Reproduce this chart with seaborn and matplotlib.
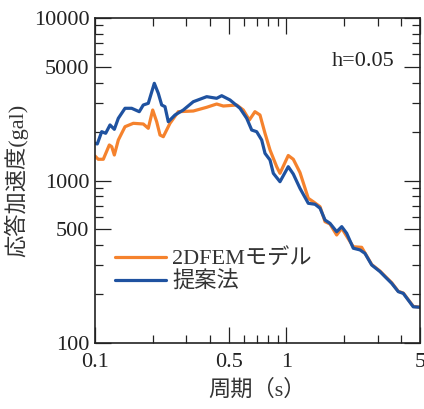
import matplotlib
matplotlib.use("Agg")
import matplotlib.pyplot as plt
import matplotlib.ticker as mticker
import numpy as np
import pandas as pd
import seaborn as sns

# 周期 (s) と応答加速度 (gal)
T_fem = [0.100, 0.104, 0.1105, 0.1188, 0.1223, 0.1262, 0.1324, 0.1435, 0.1586, 0.1788,
         0.1899, 0.2003, 0.2101, 0.2187, 0.2275, 0.2466, 0.2725, 0.3265, 0.3836, 0.4326,
         0.4686, 0.5504, 0.596, 0.6409, 0.6858, 0.7286, 0.7739, 0.822, 0.8908, 0.9268,
         1.024, 1.088, 1.179, 1.303, 1.384, 1.501, 1.594, 1.692, 1.834, 1.949,
         2.24, 2.478, 2.578, 2.796, 3.09, 3.281, 3.556, 3.85, 4.089, 4.612, 5.0]
A_fem = [1415, 1351, 1351, 1654, 1615, 1435, 1775, 2143, 2249, 2227,
         2095, 2715, 2300, 1905, 1860, 2249, 2651, 2677, 2822, 2956,
         2873, 2915, 2715, 2356, 2651, 2530, 1952, 1541, 1216, 1107,
         1425, 1351, 1120, 777, 740, 690, 558, 540, 462, 508,
         391, 388, 358, 304, 277, 258, 235, 208, 203, 168, 166]

T_prop = [0.100, 0.1028, 0.1084, 0.1137, 0.1198, 0.1262, 0.1324, 0.1435, 0.1555, 0.1704,
          0.1788, 0.1899, 0.2042, 0.2142, 0.2232, 0.2322, 0.2416, 0.2619, 0.2894, 0.3265,
          0.3836, 0.4326, 0.4596, 0.5079, 0.5728, 0.6209, 0.6594, 0.7001, 0.7437, 0.7739,
          0.822, 0.8556, 0.9268, 1.024, 1.088, 1.179, 1.303, 1.413, 1.501, 1.594,
          1.692, 1.834, 1.949, 2.069, 2.24, 2.428, 2.578, 2.796, 3.09, 3.281,
          3.556, 3.85, 4.089, 4.612, 5.0]
A_prop = [1694, 1678, 1997, 1952, 2197, 2065, 2414, 2782, 2782, 2651,
          2915, 2985, 3964, 3441, 2915, 2846, 2300, 2530, 2715, 3054,
          3280, 3205, 3325, 3130, 2782, 2414, 2045, 1997, 1775, 1470,
          1337, 1107, 983, 1216, 1096, 895, 724, 714, 675, 571,
          545, 484, 520, 473, 383, 374, 356, 302, 275, 256,
          233, 207, 202, 167, 166]

labels = ["2DFEMモデル", "提案法"]
x_ticks = [0.1, 0.5, 1, 5]
y_ticks = [100, 500, 1000, 5000, 10000]

df = pd.concat([
    pd.DataFrame({"T": T_fem, "A": A_fem, "model": labels[0]}),
    pd.DataFrame({"T": T_prop, "A": A_prop, "model": labels[1]}),
])

sns.set_theme(style="ticks")
plt.rcParams["font.family"] = ["Liberation Serif", "Noto Sans CJK JP"]

fig = plt.figure(figsize=(4.24, 4.09), dpi=100)
ax = fig.add_axes([95 / 424, 1 - 343 / 409, 325 / 424, 325 / 409])

sns.lineplot(data=df, x="T", y="A", hue="model", sort=False, estimator=None,
             palette=["#F5822D", "#1F52A0"], linewidth=2.3, ax=ax)

ax.set_xscale("log")
ax.set_yscale("log")
ax.set_xlim(0.1, 5)
ax.set_ylim(100, 10000)
ax.xaxis.set_major_locator(mticker.FixedLocator(x_ticks))
ax.yaxis.set_major_locator(mticker.FixedLocator(y_ticks))
ax.xaxis.set_major_formatter(mticker.FixedFormatter(["0.1", "0.5", "1", "5"]))
ax.yaxis.set_major_formatter(mticker.FixedFormatter([str(v) for v in y_ticks]))
ax.xaxis.set_minor_locator(mticker.LogLocator(base=10, subs=np.arange(1, 10)))
ax.yaxis.set_minor_locator(mticker.LogLocator(base=10, subs=np.arange(1, 10)))
ax.xaxis.set_minor_formatter(mticker.NullFormatter())
ax.yaxis.set_minor_formatter(mticker.NullFormatter())

ax.tick_params(which="both", direction="in", top=True, right=True,
               colors="#222222", labelsize=16, width=0.9)
ax.tick_params(which="major", length=11.5)
ax.tick_params(which="minor", length=6)
ax.tick_params(axis="x", pad=7)
ax.tick_params(axis="y", pad=4)
for s in ax.spines.values():
    s.set_linewidth(1.2)
    s.set_color("#222222")

ax.set_xlabel("周期（s）", fontsize=16, color="#333333", labelpad=6)
ax.set_ylabel("応答加速度(gal)", fontsize=16, color="#333333", labelpad=4)

ax.text(0.923, 0.865, "h=0.05", transform=ax.transAxes, ha="right", va="center",
        fontsize=16, color="#222222")

leg = ax.legend(loc="upper left", bbox_to_anchor=(0.06, 0.29), frameon=False,
                fontsize=16, handlelength=2.3, handletextpad=0.3, labelspacing=0.1,
                borderpad=0, borderaxespad=0)
for t in leg.get_texts():
    t.set_color("#333333")

fig.savefig("out.png", dpi=100)
